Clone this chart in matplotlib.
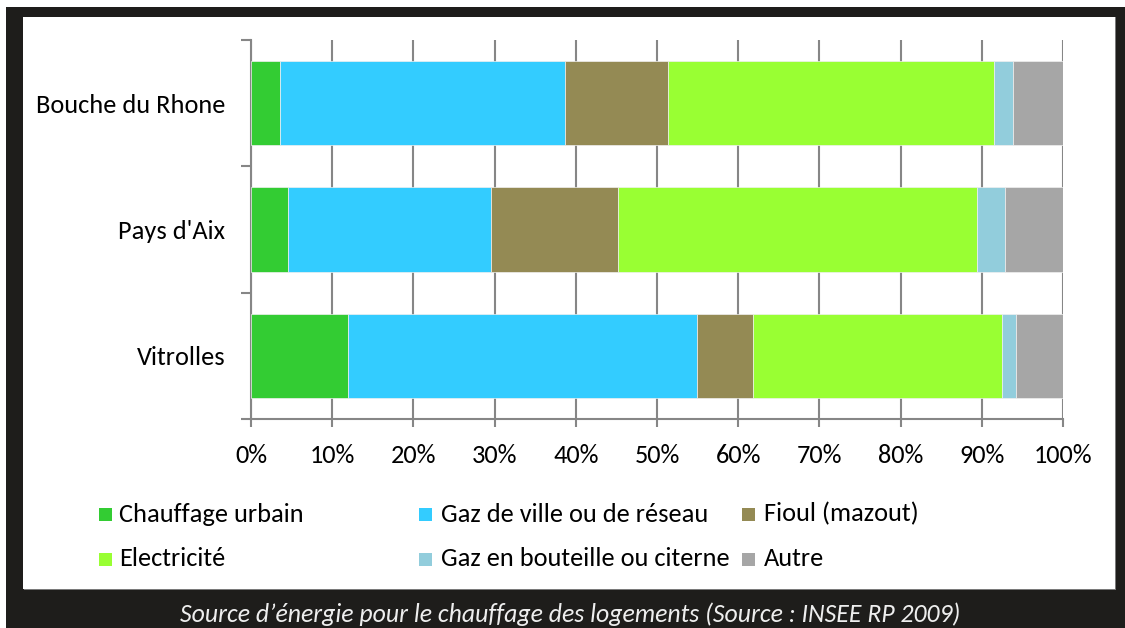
import matplotlib
matplotlib.use("Agg")
import matplotlib.pyplot as plt
from matplotlib.patches import Rectangle
from matplotlib.ticker import FixedLocator, PercentFormatter
from matplotlib import font_manager
import numpy as np

categories = ["Bouche du Rhone", "Pays d'Aix", "Vitrolles"]
series_names = ["Chauffage urbain", "Gaz de ville ou de réseau", "Fioul (mazout)",
                "Electricité", "Gaz en bouteille ou citerne", "Autre"]
chauffage_urbain = [3.6, 4.6, 11.9]
gaz_ville = [35.1, 24.9, 43.0]
fioul = [12.6, 15.7, 6.9]
electricite = [40.2, 44.2, 30.7]
gaz_bouteille = [2.3, 3.4, 1.7]
autre = [6.2, 7.2, 5.8]
x_ticks = [0, 10, 20, 30, 40, 50, 60, 70, 80, 90, 100]
caption = "Source d\u2019énergie pour le chauffage des logements (Source : INSEE RP 2009)"

colors = ["#33cc33", "#33ccff", "#948a54", "#99ff33", "#92cddc", "#a6a6a6"]
series = [chauffage_urbain, gaz_ville, fioul, electricite, gaz_bouteille, autre]

names = {f.name for f in font_manager.fontManager.ttflist}
if "Carlito" in names:
    FONT, FS, CFS = "Carlito", 19, 18.5
else:
    FONT, FS, CFS = "Lato", 15, 17.5
plt.rcParams["font.family"] = [FONT, "DejaVu Sans"]

W, H = 1125, 628
fig = plt.figure(figsize=(W / 100, H / 100), dpi=100)
fig.patch.set_facecolor("white")

def fx(px):
    return px / W

def fy(py):
    return 1 - py / H

dark = "#1e1d1b"
fig.patches.append(Rectangle((fx(6), fy(628)), fx(1125 - 6), (628 - 7) / H,
                             transform=fig.transFigure, facecolor=dark, edgecolor="none", zorder=-3))
fig.patches.append(Rectangle((fx(24), fy(590)), fx(1116 - 24), (590 - 17) / H,
                             transform=fig.transFigure, facecolor="#7a7a7a", edgecolor="none", zorder=-2))
fig.patches.append(Rectangle((fx(23), fy(589)), fx(1115 - 23), (589 - 17) / H,
                             transform=fig.transFigure, facecolor="white", edgecolor="none", zorder=-1))

ax = fig.add_axes([fx(251), fy(419), fx(1063 - 251), (419 - 40) / H])
ax.set_facecolor("none")

y = np.arange(len(categories))
left = np.zeros(len(categories))
for vals, c, name in zip(series, colors, series_names):
    ax.barh(y, vals, left=left, color=c, height=0.667, label=name, zorder=3,
            edgecolor="#f0f0f0", linewidth=0.5)
    left += np.array(vals)

ax.set_xlim(0, 100)
ax.set_ylim(2.5, -0.5)
ax.xaxis.set_major_locator(FixedLocator(x_ticks))
ax.xaxis.set_major_formatter(PercentFormatter(decimals=0))
ax.grid(axis="x", color="#868686", linewidth=1.5, zorder=0)
ax.set_axisbelow(True)

ax.set_yticks(y)
ax.set_yticklabels(categories)
ax.yaxis.set_minor_locator(FixedLocator([-0.5, 0.5, 1.5, 2.5]))
ax.tick_params(axis="y", which="major", length=0, pad=18.5, labelsize=FS, labelcolor="black")
ax.tick_params(axis="y", which="minor", length=7.5, width=1.5, color="#868686")
ax.tick_params(axis="x", which="major", length=6, width=1.5, color="#868686", pad=12,
               labelsize=FS, labelcolor="black")

for s in ["top", "right"]:
    ax.spines[s].set_visible(False)
for s in ["left", "bottom"]:
    ax.spines[s].set_color("#868686")
    ax.spines[s].set_linewidth(1.5)

# manual legend, Excel-like layout
marker_x = [99, 419, 742]
text_x = [119, 441, 764]
row_y = [514, 559]
for i, (name, c) in enumerate(zip(series_names, colors)):
    r, k = divmod(i, 3)
    y0 = row_y[r]
    fig.patches.append(Rectangle((fx(marker_x[k]), fy(y0 + 7)), fx(13), 13 / H,
                                 transform=fig.transFigure, facecolor=c, edgecolor="none", zorder=2))
    fig.text(fx(text_x[k]), fy(y0), name, fontsize=FS, va="center", ha="left", color="black")

fig.text(fx(570), fy(622), caption, fontsize=CFS, style="italic", color="#eeeeee",
         ha="center", va="baseline")

fig.savefig("out.png", dpi=100, facecolor=fig.get_facecolor())
